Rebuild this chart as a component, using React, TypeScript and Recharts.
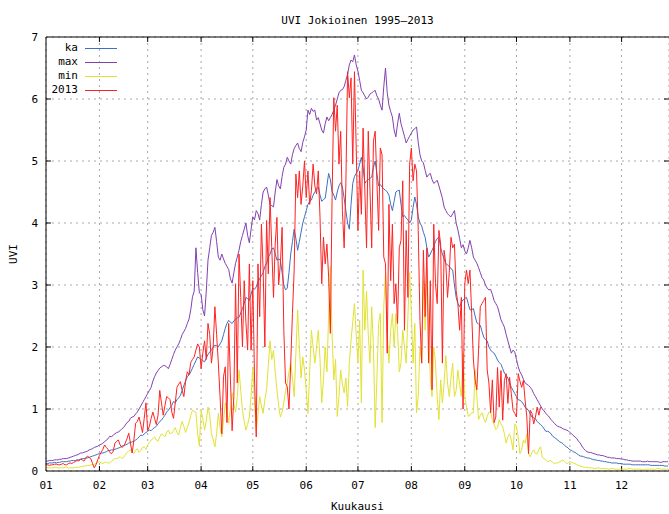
import React from 'react';
import { LineChart, Line, XAxis, YAxis, CartesianGrid, ReferenceLine } from 'recharts';

// Month start days (day of year) and their tick labels
const monthStarts = [1, 32, 60, 91, 121, 152, 182, 213, 244, 274, 305, 335];
const monthLabels = ['01', '02', '03', '04', '05', '06', '07', '08', '09', '10', '11', '12'];
const uviTicks = [0, 1, 2, 3, 4, 5, 6, 7];

// Daily mean UVI 1995–2013, one row per month
const kaByMonth = [
  [0.12, 0.12, 0.13, 0.13, 0.13, 0.14, 0.13, 0.14, 0.14, 0.15, 0.15, 0.15, 0.15, 0.16, 0.16, 0.17, 0.17, 0.17, 0.18, 0.18, 0.19, 0.2, 0.2, 0.21, 0.21, 0.22, 0.23, 0.24, 0.25, 0.26, 0.27],
  [0.28, 0.29, 0.29, 0.3, 0.31, 0.33, 0.33, 0.34, 0.34, 0.35, 0.36, 0.37, 0.38, 0.4, 0.41, 0.42, 0.43, 0.45, 0.46, 0.47, 0.48, 0.5, 0.52, 0.55, 0.58, 0.57, 0.6, 0.62],
  [0.64, 0.66, 0.65, 0.68, 0.7, 0.72, 0.76, 0.8, 0.82, 0.86, 0.9, 0.95, 0.98, 1.02, 1.06, 1.12, 1.1, 1.15, 1.18, 1.22, 1.3, 1.38, 1.45, 1.52, 1.55, 1.6, 1.66, 1.72, 1.78, 1.84, 1.82],
  [1.8, 1.78, 1.76, 1.82, 1.88, 1.92, 1.95, 2.0, 2.03, 2.02, 2.0, 2.05, 2.1, 2.2, 2.3, 2.38, 2.43, 2.4, 2.38, 2.42, 2.45, 2.47, 2.48, 2.55, 2.62, 2.7, 2.8, 2.78, 2.75, 2.85],
  [2.95, 2.93, 2.97, 3.05, 3.1, 3.15, 3.2, 3.3, 3.35, 3.45, 3.5, 3.58, 3.6, 3.5, 3.4, 3.42, 3.4, 3.2, 3.0, 2.92, 2.95, 3.2, 3.5, 3.7, 3.9, 3.75, 3.56, 3.7, 3.85, 4.0, 4.1],
  [4.2, 4.3, 4.35, 4.37, 4.45, 4.5, 4.55, 4.58, 4.45, 4.35, 4.38, 4.4, 4.6, 4.8, 4.7, 4.5, 4.45, 4.37, 4.5, 4.6, 4.65, 4.58, 4.4, 4.2, 4.0, 3.9, 4.3, 4.64, 4.75, 4.8],
  [4.85, 4.95, 5.06, 4.9, 4.64, 4.68, 4.7, 4.72, 4.74, 4.9, 5.0, 4.8, 4.6, 4.62, 4.58, 4.55, 4.53, 4.5, 4.45, 4.3, 4.2, 4.35, 4.5, 4.52, 4.53, 4.3, 4.1, 4.12, 4.08, 4.05, 4.0],
  [4.05, 4.25, 4.42, 4.3, 4.1, 4.0, 3.95, 3.85, 3.77, 3.6, 3.45, 3.5, 3.56, 3.62, 3.7, 3.75, 3.77, 3.6, 3.5, 3.42, 3.35, 3.32, 3.3, 3.26, 3.24, 3.0, 2.8, 2.7, 2.65, 2.72, 2.76],
  [2.78, 2.8, 2.7, 2.6, 2.6, 2.62, 2.5, 2.39, 2.37, 2.35, 2.25, 2.16, 2.12, 2.1, 2.0, 1.95, 1.92, 1.9, 1.85, 1.79, 1.75, 1.72, 1.65, 1.58, 1.54, 1.5, 1.42, 1.35, 1.3, 1.25],
  [1.2, 1.15, 1.14, 1.12, 1.08, 1.03, 1.0, 0.98, 0.92, 0.87, 0.86, 0.84, 0.8, 0.77, 0.75, 0.72, 0.68, 0.64, 0.64, 0.63, 0.6, 0.56, 0.54, 0.52, 0.5, 0.47, 0.46, 0.44, 0.41, 0.39, 0.37],
  [0.34, 0.33, 0.31, 0.3, 0.28, 0.26, 0.24, 0.24, 0.23, 0.22, 0.21, 0.21, 0.2, 0.19, 0.18, 0.18, 0.17, 0.17, 0.16, 0.16, 0.15, 0.15, 0.14, 0.14, 0.13, 0.13, 0.13, 0.13, 0.12, 0.12],
  [0.12, 0.11, 0.11, 0.11, 0.11, 0.11, 0.1, 0.1, 0.1, 0.1, 0.1, 0.1, 0.1, 0.1, 0.1, 0.1, 0.1, 0.09, 0.09, 0.09, 0.09, 0.09, 0.09, 0.09, 0.09, 0.08, 0.08, 0.08],
];

// Daily maximum UVI 1995–2013
const maxByMonth = [
  [0.16, 0.16, 0.17, 0.17, 0.17, 0.18, 0.18, 0.18, 0.19, 0.19, 0.2, 0.2, 0.2, 0.21, 0.22, 0.23, 0.24, 0.25, 0.26, 0.27, 0.29, 0.29, 0.3, 0.31, 0.32, 0.34, 0.35, 0.36, 0.38, 0.39, 0.4],
  [0.42, 0.43, 0.45, 0.47, 0.5, 0.52, 0.56, 0.55, 0.58, 0.6, 0.62, 0.63, 0.65, 0.68, 0.7, 0.74, 0.78, 0.8, 0.85, 0.87, 0.88, 0.92, 0.95, 1.0, 1.05, 1.1, 1.15, 1.2],
  [1.25, 1.3, 1.35, 1.45, 1.52, 1.58, 1.62, 1.66, 1.68, 1.7, 1.7, 1.68, 1.65, 1.72, 1.8, 1.88, 1.95, 2.0, 2.05, 2.12, 2.2, 2.25, 2.3, 2.38, 2.45, 2.6, 2.81, 2.9, 3.6, 3.2, 2.87],
  [2.85, 2.6, 2.5, 2.9, 3.4, 3.6, 3.8, 3.85, 3.93, 3.7, 3.45, 3.4, 3.5, 3.42, 3.35, 3.3, 3.25, 3.1, 3.03, 3.2, 3.35, 3.45, 3.56, 3.7, 3.8, 3.9, 4.0, 3.8, 3.68, 3.9],
  [4.1, 4.05, 4.2, 4.15, 4.05, 4.3, 4.5, 4.55, 4.58, 4.45, 4.3, 4.28, 4.26, 4.5, 4.7, 4.6, 4.55, 4.75, 4.9, 4.95, 5.06, 5.0, 4.95, 5.1, 5.2, 5.25, 5.29, 5.2, 5.15, 5.3, 5.39],
  [5.5, 5.82, 5.75, 5.85, 5.8, 5.82, 5.66, 5.7, 5.6, 5.5, 5.45, 5.6, 5.71, 5.65, 5.7, 5.75, 5.82, 5.9, 6.0, 6.1, 6.14, 6.15, 6.2, 6.3, 6.4, 6.55, 6.63, 6.6, 6.71, 6.55],
  [6.45, 6.3, 6.14, 6.1, 6.05, 6.0, 6.03, 6.08, 6.1, 6.12, 6.14, 6.05, 6.0, 5.9, 5.82, 6.2, 6.5, 6.1, 5.9, 5.8, 5.71, 5.5, 5.39, 5.6, 5.77, 5.6, 5.5, 5.4, 5.29, 5.35, 5.4],
  [5.45, 5.5, 5.52, 5.55, 5.3, 5.1, 5.0, 4.97, 4.85, 4.74, 4.78, 4.8, 4.7, 4.64, 4.66, 4.69, 4.6, 4.5, 4.4, 4.26, 4.2, 4.15, 4.12, 4.1, 4.15, 4.2, 4.0, 3.89, 3.75, 3.6, 3.65],
  [3.55, 3.5, 3.6, 3.72, 3.6, 3.45, 3.4, 3.35, 3.28, 3.2, 3.12, 3.08, 3.0, 2.95, 2.92, 2.93, 2.85, 2.75, 2.7, 2.65, 2.55, 2.44, 2.38, 2.32, 2.2, 2.1, 2.0, 1.9, 1.95, 1.92],
  [1.8, 1.68, 1.6, 1.55, 1.48, 1.42, 1.4, 1.38, 1.35, 1.31, 1.25, 1.2, 1.15, 1.1, 1.05, 1.0, 0.97, 0.93, 0.9, 0.87, 0.83, 0.8, 0.77, 0.74, 0.72, 0.71, 0.7, 0.68, 0.67, 0.66, 0.65],
  [0.62, 0.6, 0.57, 0.55, 0.52, 0.48, 0.45, 0.4, 0.36, 0.33, 0.31, 0.3, 0.3, 0.29, 0.28, 0.27, 0.26, 0.26, 0.25, 0.25, 0.24, 0.23, 0.22, 0.22, 0.21, 0.21, 0.21, 0.2, 0.2, 0.2],
  [0.19, 0.19, 0.18, 0.18, 0.17, 0.17, 0.16, 0.16, 0.16, 0.16, 0.16, 0.16, 0.15, 0.15, 0.15, 0.16, 0.15, 0.15, 0.15, 0.15, 0.15, 0.15, 0.14, 0.14, 0.15, 0.15, 0.15, 0.15],
];

// Daily minimum UVI 1995–2013
const minByMonth = [
  [0.06, 0.05, 0.05, 0.05, 0.05, 0.06, 0.06, 0.05, 0.05, 0.05, 0.05, 0.06, 0.06, 0.05, 0.05, 0.05, 0.05, 0.06, 0.06, 0.06, 0.07, 0.07, 0.08, 0.08, 0.09, 0.09, 0.1, 0.1, 0.11, 0.12, 0.14],
  [0.15, 0.13, 0.12, 0.14, 0.14, 0.13, 0.13, 0.16, 0.18, 0.2, 0.2, 0.21, 0.23, 0.2, 0.22, 0.26, 0.3, 0.32, 0.34, 0.3, 0.28, 0.33, 0.36, 0.3, 0.33, 0.38, 0.39, 0.35],
  [0.42, 0.46, 0.5, 0.52, 0.55, 0.5, 0.48, 0.55, 0.6, 0.58, 0.55, 0.62, 0.66, 0.6, 0.61, 0.65, 0.7, 0.62, 0.58, 0.7, 0.8, 0.72, 0.62, 0.7, 0.78, 0.9, 0.98, 0.96, 0.95, 0.6, 0.4],
  [0.98, 0.85, 0.66, 0.8, 1.03, 0.9, 0.6, 0.5, 0.39, 0.6, 0.93, 0.7, 0.55, 0.8, 1.1, 0.95, 0.77, 1.0, 1.26, 1.1, 0.95, 1.2, 1.63, 1.3, 0.98, 0.8, 0.66, 0.75, 0.87, 1.2],
  [1.68, 1.1, 0.66, 0.9, 1.2, 1.05, 0.93, 1.15, 1.31, 1.7, 2.1, 1.8, 1.95, 1.6, 1.31, 1.05, 0.87, 0.95, 1.1, 1.3, 1.42, 1.6, 1.74, 1.5, 1.2, 1.9, 2.6, 2.0, 1.5, 1.84, 1.63],
  [1.3, 0.93, 1.6, 2.27, 2.0, 1.74, 2.0, 2.27, 1.8, 1.1, 1.47, 2.0, 1.6, 2.5, 3.3, 2.2, 1.47, 1.8, 0.88, 1.2, 1.63, 1.4, 1.26, 1.5, 1.04, 1.74, 2.11, 2.4, 2.7, 2.2],
  [1.74, 2.43, 1.1, 3.24, 2.27, 2.9, 2.2, 1.74, 2.65, 2.0, 0.7, 1.47, 2.38, 2.54, 0.78, 2.65, 3.2, 2.2, 1.74, 2.27, 2.54, 2.0, 2.54, 2.27, 1.6, 1.74, 2.27, 2.0, 1.74, 2.5, 3.2],
  [2.54, 1.74, 2.38, 0.94, 1.2, 2.0, 1.74, 3.07, 2.27, 3.26, 2.27, 1.5, 1.2, 2.0, 1.74, 1.2, 0.83, 1.47, 1.1, 1.42, 1.86, 1.42, 1.2, 1.5, 1.74, 1.2, 1.3, 1.63, 1.4, 1.2, 1.9],
  [1.2, 1.04, 0.88, 0.9, 0.94, 0.94, 1.63, 1.2, 0.83, 0.9, 0.94, 0.85, 0.78, 0.88, 0.95, 0.94, 0.83, 0.75, 0.67, 0.7, 0.83, 0.76, 0.71, 0.6, 0.45, 0.55, 0.6, 0.5, 0.34, 0.76],
  [0.71, 0.55, 0.28, 0.34, 0.5, 0.45, 0.6, 0.28, 0.23, 0.3, 0.34, 0.28, 0.28, 0.35, 0.39, 0.22, 0.2, 0.18, 0.15, 0.16, 0.17, 0.14, 0.12, 0.13, 0.13, 0.15, 0.16, 0.18, 0.15, 0.12, 0.13],
  [0.15, 0.14, 0.13, 0.12, 0.1, 0.09, 0.08, 0.07, 0.06, 0.06, 0.06, 0.05, 0.05, 0.05, 0.04, 0.04, 0.05, 0.05, 0.04, 0.04, 0.04, 0.04, 0.03, 0.03, 0.04, 0.04, 0.03, 0.03, 0.03, 0.03],
  [0.03, 0.03, 0.03, 0.03, 0.04, 0.04, 0.03, 0.03, 0.03, 0.03, 0.03, 0.03, 0.02, 0.02, 0.03, 0.03, 0.03, 0.03, 0.03, 0.03, 0.03, 0.04, 0.04, 0.03, 0.03, 0.03, 0.03, 0.04],
];

// Daily UVI in 2013 (measurements end in mid-October)
const y2013ByMonth = [
  [0.1, 0.1, 0.09, 0.1, 0.1, 0.11, 0.11, 0.1, 0.1, 0.11, 0.12, 0.1, 0.1, 0.12, 0.13, 0.12, 0.14, 0.15, 0.17, 0.16, 0.19, 0.18, 0.16, 0.2, 0.24, 0.22, 0.2, 0.12, 0.05, 0.1, 0.18],
  [0.25, 0.3, 0.35, 0.42, 0.38, 0.35, 0.3, 0.28, 0.32, 0.45, 0.48, 0.5, 0.42, 0.38, 0.4, 0.45, 0.52, 0.61, 0.45, 0.29, 0.5, 0.77, 0.8, 0.87, 0.75, 0.62, 0.85, 1.1],
  [0.65, 0.72, 0.85, 0.95, 0.85, 0.75, 0.9, 1.3, 1.1, 0.9, 1.05, 1.2, 1.18, 1.15, 0.95, 0.85, 1.1, 1.35, 1.4, 1.44, 1.3, 1.2, 1.45, 1.6, 1.55, 1.75, 1.8, 1.84, 1.95, 2.05, 2.0],
  [1.65, 1.9, 2.1, 1.8, 2.38, 2.2, 1.74, 2.0, 2.65, 2.2, 1.74, 1.2, 0.6, 1.52, 1.68, 0.78, 2.38, 1.5, 0.65, 1.2, 3.02, 1.42, 3.5, 2.8, 2.0, 3.07, 2.4, 1.95, 3.34, 1.95],
  [3.07, 1.5, 0.55, 3.34, 2.49, 3.98, 3.24, 2.0, 4.04, 3.18, 4.41, 3.6, 2.8, 3.66, 4.09, 3.0, 3.34, 3.93, 2.27, 1.42, 1.36, 1.0, 1.74, 2.54, 3.24, 4.79, 4.41, 4.84, 4.3, 4.6, 5.0],
  [4.41, 4.84, 4.3, 4.52, 4.95, 4.6, 4.47, 4.84, 4.09, 3.02, 3.77, 3.34, 3.66, 3.13, 2.22, 4.41, 6.02, 5.48, 5.9, 4.95, 5.48, 4.2, 3.6, 4.63, 6.44, 6.02, 6.34, 4.95, 6.44, 5.21],
  [3.88, 4.84, 4.14, 5.53, 4.52, 3.6, 5.48, 4.52, 3.6, 5.32, 5.48, 4.68, 3.88, 5.21, 5.1, 3.45, 3.34, 1.9, 4.3, 3.07, 3.98, 2.7, 3.02, 2.38, 3.6, 3.72, 4.68, 2.27, 3.88, 2.8, 4.95],
  [5.21, 4.68, 4.95, 4.84, 3.88, 2.43, 1.74, 3.56, 2.49, 3.6, 1.74, 3.07, 1.31, 3.98, 3.02, 2.7, 3.88, 3.66, 1.74, 3.56, 3.34, 2.8, 3.2, 3.77, 3.6, 3.66, 2.91, 2.7, 2.27, 2.8, 1.0],
  [3.02, 3.24, 3.02, 3.24, 2.54, 1.79, 1.47, 1.31, 1.95, 2.65, 2.7, 2.75, 2.8, 1.63, 1.42, 0.94, 1.47, 0.78, 0.87, 1.67, 1.03, 1.62, 0.82, 1.46, 1.57, 1.09, 1.51, 1.25, 0.98, 0.93],
  [0.87, 1.57, 1.45, 1.35, 1.46, 1.14, 0.87, 0.28, 0.98, 0.93, 0.76, 0.87, 1.03, 0.9, 1.03],
];

const series = [
  { key: 'ka', name: 'ka', color: '#3f6fc2', byMonth: kaByMonth },
  { key: 'max', name: 'max', color: '#8142b0', byMonth: maxByMonth },
  { key: 'min', name: 'min', color: '#e2e232', byMonth: minByMonth },
  { key: 'y2013', name: '2013', color: '#ff2222', byMonth: y2013ByMonth },
];

// One row per day of year; a series without a value on a day leaves it empty
const rowsByDay = new Map<number, Record<string, number>>();
series.forEach((s) => {
  s.byMonth.forEach((values, m) => {
    values.forEach((v, j) => {
      const day = monthStarts[m] + j;
      const row = rowsByDay.get(day) ?? { day };
      row[s.key] = v;
      rowsByDay.set(day, row);
    });
  });
});
const data = Array.from(rowsByDay.values()).sort((a, b) => a.day - b.day);

const FONT = '"DejaVu Sans Mono", "Liberation Mono", monospace';
const W = 669;
const H = 514;
const Y_AXIS_W = 40;
const X_AXIS_H = 30;
const PLOT = { left: 46, top: 37, right: 669, bottom: 471 };
const M = { top: PLOT.top, right: W - PLOT.right, bottom: H - PLOT.bottom - X_AXIS_H, left: PLOT.left - Y_AXIS_W };
const X_MIN = 1;
const X_MAX = 362.5;
const TICK_DX = 2.9; // inward tick length along x, in days
const TICK_DY = 0.08; // inward tick length along y, in UVI units

const tickStyle = { fill: '#000', fontSize: 11, fontFamily: FONT };

export default function App() {
  const monthLabel = (v: number) => {
    const idx = monthStarts.indexOf(v);
    return idx >= 0 ? monthLabels[idx] : '';
  };
  const plotCx = (PLOT.left + PLOT.right) / 2;
  const plotCy = (PLOT.top + PLOT.bottom) / 2;

  return (
    <div style={{ position: 'absolute', left: 0, top: 0, width: W, height: H, background: '#fff' }}>
      <LineChart width={W} height={H} data={data} margin={M}>
        <CartesianGrid stroke="#a8a8a8" strokeDasharray="2 4" />
        <XAxis
          dataKey="day"
          type="number"
          domain={[X_MIN, X_MAX]}
          ticks={monthStarts}
          tickFormatter={monthLabel}
          height={X_AXIS_H}
          tickSize={0}
          tickMargin={10}
          tickLine={false}
          axisLine={{ stroke: '#000' }}
          tick={tickStyle}
          interval={0}
          allowDataOverflow
        />
        <YAxis
          type="number"
          domain={[0, 7]}
          ticks={uviTicks}
          width={Y_AXIS_W}
          tickSize={0}
          tickMargin={8}
          tickLine={false}
          axisLine={{ stroke: '#000' }}
          tick={tickStyle}
          interval={0}
          allowDataOverflow
        />
        <ReferenceLine y={7} stroke="#000" />
        {monthStarts.slice(1).map((m) => (
          <ReferenceLine key={`b${m}`} segment={[{ x: m, y: 0 }, { x: m, y: TICK_DY }]} stroke="#000" />
        ))}
        {monthStarts.slice(1).map((m) => (
          <ReferenceLine key={`t${m}`} segment={[{ x: m, y: 7 }, { x: m, y: 7 - TICK_DY }]} stroke="#000" />
        ))}
        {uviTicks.slice(1, -1).map((v) => (
          <ReferenceLine key={`l${v}`} segment={[{ x: X_MIN, y: v }, { x: X_MIN + TICK_DX, y: v }]} stroke="#000" />
        ))}
        {uviTicks.slice(1, -1).map((v) => (
          <ReferenceLine key={`r${v}`} segment={[{ x: X_MAX, y: v }, { x: X_MAX - TICK_DX, y: v }]} stroke="#000" />
        ))}
        {series.map((s) => (
          <Line
            key={s.key}
            dataKey={s.key}
            name={s.name}
            type="linear"
            stroke={s.color}
            strokeWidth={1}
            dot={false}
            activeDot={false}
            isAnimationActive={false}
            connectNulls={false}
          />
        ))}
      </LineChart>
      <svg
        width={W}
        height={H}
        style={{ position: 'absolute', left: 0, top: 0, pointerEvents: 'none' }}
        fontFamily={FONT}
        fontSize={11}
      >
        <text x={plotCx} y={21} textAnchor="middle" dominantBaseline="middle" fill="#000">
          UVI Jokioinen 1995–2013
        </text>
        <text
          x={14}
          y={plotCy}
          textAnchor="middle"
          dominantBaseline="middle"
          transform={`rotate(-90 14 ${plotCy})`}
          fill="#000"
        >
          UVI
        </text>
        <text x={plotCx} y={507} textAnchor="middle" dominantBaseline="middle" fill="#000">
          Kuukausi
        </text>
        {series.map((s, i) => (
          <g key={s.key}>
            <text x={78} y={48 + i * 14} textAnchor="end" dominantBaseline="middle" fill="#000">
              {s.name}
            </text>
            <line x1={85} x2={117} y1={48.5 + i * 14} y2={48.5 + i * 14} stroke={s.color} strokeWidth={1} />
          </g>
        ))}
      </svg>
    </div>
  );
}
